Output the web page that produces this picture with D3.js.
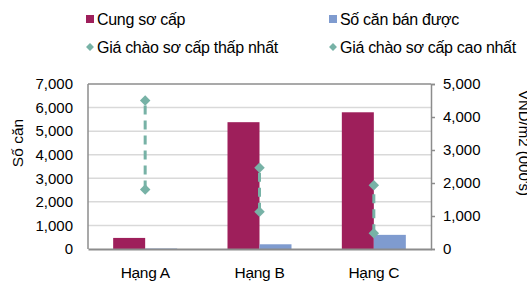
<!DOCTYPE html>
<html>
<head>
<meta charset="utf-8">
<script src="https://cdn.jsdelivr.net/npm/d3@7"></script>
<style>
  body { margin: 0; background: #fff; }
  svg { display: block; font-family: "Liberation Sans", Arial, sans-serif; }
</style>
</head>
<body>
<div id="chart"></div>
<script>
// Chart data
const categories = ['Hạng A', 'Hạng B', 'Hạng C'];
const supply = [470, 5380, 5800];        // Cung sơ cấp
const sold = [20, 200, 600];             // Số căn bán được
const priceMin = [1800, 1130, 480];      // Giá chào sơ cấp thấp nhất
const priceMax = [4500, 2460, 1930];     // Giá chào sơ cấp cao nhất
const leftTicks = [0, 1000, 2000, 3000, 4000, 5000, 6000, 7000];
const rightTicks = [0, 1000, 2000, 3000, 4000, 5000];

const width = 527, height = 286;
const margin = { top: 84, right: 96, bottom: 37, left: 88 };
const innerW = width - margin.left - margin.right;
const innerH = height - margin.top - margin.bottom;

const colors = { supply: '#9E1F5B', sold: '#7F9BCF', price: '#77B2A6', grid: '#D9D9D9', axis: '#8C8C8C' };

const svg = d3.select('#chart').append('svg')
  .attr('width', width)
  .attr('height', height);

const g = svg.append('g').attr('transform', `translate(${margin.left},${margin.top})`);

const x = d3.scaleBand().domain(categories).range([0, innerW]);
const xSub = d3.scaleBand().domain(['supply', 'sold']).range([0, 64]);
const yLeft = d3.scaleLinear().domain([0, 7000]).range([innerH, 0]);
const yRight = d3.scaleLinear().domain([0, 5000]).range([innerH, 0]);

// gridlines
g.append('g')
  .selectAll('line')
  .data(leftTicks.slice(1, -1))
  .join('line')
  .attr('x1', 0).attr('x2', innerW)
  .attr('y1', d => yLeft(d)).attr('y2', d => yLeft(d))
  .attr('stroke', colors.grid).attr('stroke-width', 1.5);

// bars
const groupOffset = (x.bandwidth() - 64) / 2;
const barData = categories.map((c, i) => [
  { cat: c, key: 'supply', value: supply[i] },
  { cat: c, key: 'sold', value: sold[i] }
]).flat();

g.append('g')
  .selectAll('rect')
  .data(barData)
  .join('rect')
  .attr('x', d => x(d.cat) + groupOffset + xSub(d.key))
  .attr('width', xSub.bandwidth())
  .attr('y', d => yLeft(d.value))
  .attr('height', d => innerH - yLeft(d.value))
  .attr('fill', d => colors[d.key]);

// price range lines
const cx = d => x(d) + x.bandwidth() / 2;
g.append('g')
  .selectAll('line')
  .data(categories)
  .join('line')
  .attr('x1', d => cx(d)).attr('x2', d => cx(d))
  .attr('y1', (d, i) => yRight(priceMin[i]))
  .attr('y2', (d, i) => yRight(priceMax[i]))
  .attr('stroke', colors.price)
  .attr('stroke-width', 3)
  .attr('stroke-dasharray', '9,6');

const diamond = d3.symbol().type(d3.symbolDiamond2).size(70);
const pts = categories.map((c, i) => [{ cat: c, v: priceMin[i] }, { cat: c, v: priceMax[i] }]).flat();
g.append('g')
  .selectAll('path')
  .data(pts)
  .join('path')
  .attr('d', diamond)
  .attr('transform', d => `translate(${cx(d.cat)},${yRight(d.v)})`)
  .attr('fill', colors.price);

// frame: top + left border
g.append('line').attr('x1', 0).attr('x2', innerW).attr('y1', 0).attr('y2', 0)
  .attr('stroke', colors.axis).attr('stroke-width', 1.5);
g.append('line').attr('x1', 0).attr('x2', 0).attr('y1', 0).attr('y2', innerH)
  .attr('stroke', colors.axis).attr('stroke-width', 1.5);

const fmt = d3.format(',');

// left axis
const leftAxis = g.append('g')
  .call(d3.axisLeft(yLeft).tickValues(leftTicks).tickFormat(fmt).tickSize(0).tickPadding(15));
leftAxis.select('.domain').remove();
leftAxis.selectAll('text').attr('font-size', 15).attr('fill', '#000');

// right axis
const rightAxis = g.append('g')
  .attr('transform', `translate(${innerW},0)`)
  .call(d3.axisRight(yRight).tickValues(rightTicks).tickFormat(fmt).tickSize(4).tickPadding(8));
rightAxis.select('.domain').attr('stroke', colors.axis).attr('stroke-width', 1.5);
rightAxis.selectAll('line').attr('stroke', colors.axis).attr('stroke-width', 1.5);
rightAxis.selectAll('text').attr('font-size', 15).attr('fill', '#000');

// bottom axis
const bottomAxis = g.append('g')
  .attr('transform', `translate(0,${innerH})`)
  .call(d3.axisBottom(x).tickSize(0).tickPadding(18));
bottomAxis.select('.domain').attr('stroke', colors.axis).attr('stroke-width', 2);
bottomAxis.selectAll('text').attr('font-size', 15.5).attr('letter-spacing', -0.3).attr('fill', '#000');

// axis titles
svg.append('text')
  .attr('transform', `translate(23,143) rotate(-90)`)
  .attr('text-anchor', 'middle')
  .attr('font-size', 15.5)
  .text('Số căn');

svg.append('text')
  .attr('transform', `translate(519,143) rotate(90)`)
  .attr('text-anchor', 'middle')
  .attr('font-size', 15)
  .text("VND/m2 (000's)");

// legend
const legendItems = [
  { label: 'Cung sơ cấp', type: 'square', color: colors.supply, x: 85, y: 19 },
  { label: 'Số căn bán được', type: 'square', color: colors.sold, x: 328, y: 19 },
  { label: 'Giá chào sơ cấp thấp nhất', type: 'diamond', color: colors.price, x: 85, y: 47 },
  { label: 'Giá chào sơ cấp cao nhất', type: 'diamond', color: colors.price, x: 328, y: 47 }
];
const legend = svg.append('g')
  .selectAll('g')
  .data(legendItems)
  .join('g')
  .attr('transform', d => `translate(${d.x},${d.y})`);

legend.filter(d => d.type === 'square').append('rect')
  .attr('x', 1).attr('y', -4).attr('width', 8).attr('height', 8)
  .attr('fill', d => d.color);
legend.filter(d => d.type === 'diamond').append('path')
  .attr('d', d3.symbol().type(d3.symbolDiamond2).size(40))
  .attr('transform', 'translate(5,0)')
  .attr('fill', d => d.color);
legend.append('text')
  .attr('x', 12).attr('dy', '0.35em')
  .attr('font-size', 16)
  .attr('letter-spacing', -0.3)
  .text(d => d.label);
</script>
</body>
</html>
